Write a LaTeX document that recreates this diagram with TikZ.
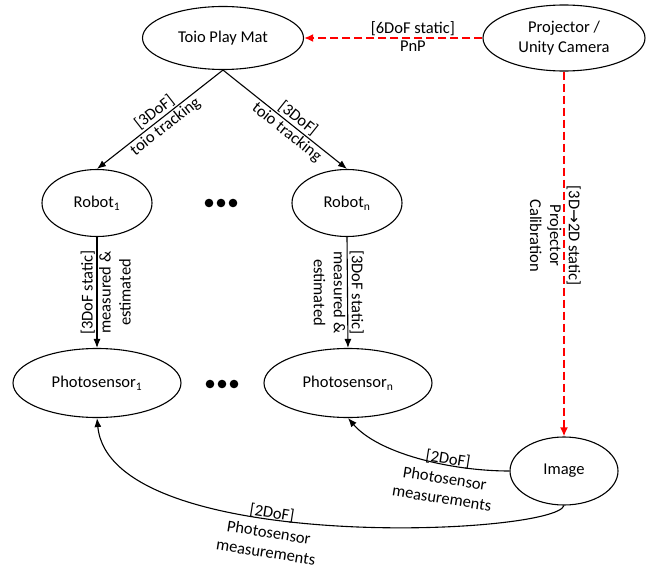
\documentclass[tikz,border=0pt]{standalone}
\usepackage{fontspec}
\setmainfont{Carlito}
\newfontfamily\arrowfont{DejaVu Sans}
\usetikzlibrary{positioning, calc}
\usetikzlibrary{shapes.geometric}
\usetikzlibrary{arrows.meta}

\begin{document}
\begin{tikzpicture}[x=1pt, y=-1pt,
        blob/.style={draw, ellipse, line width=1.1pt, inner sep=0pt, align=center, font=\fontsize{16.5}{20}\selectfont},
        lbl/.style={inner sep=1.5pt, align=center, text=black, font=\fontsize{16.5}{20}\selectfont},
        conn/.style={line width=1.1pt, -{Latex[length=9pt,width=7pt]}},
        calib/.style={line width=2pt, red, dash pattern=on 8pt off 4pt, -{Latex[length=9pt,width=8pt]}}]
    \useasboundingbox (0,0) rectangle (651,567);
    % ellipses
    \node[blob, minimum width=161pt, minimum height=63pt] (mat) at (223,38) {Toio Play Mat};
    \node[blob, minimum width=162pt, minimum height=66pt] (proj) at (564,38) {Projector /\\Unity Camera};
    \node[blob, minimum width=110pt, minimum height=67pt] (rob1) at (97,203) {Robot\textsubscript{1}};
    \node[blob, minimum width=110pt, minimum height=67pt] (robn) at (347,203) {Robot\textsubscript{n}};
    \node[blob, minimum width=168pt, minimum height=69pt] (ps1) at (97,383) {Photosensor\textsubscript{1}};
    \node[blob, minimum width=168pt, minimum height=69pt] (psn) at (348,383) {Photosensor\textsubscript{n}};
    \node[blob, minimum width=108pt, minimum height=68pt] (img) at (564,471) {Image};
    % dots
    \foreach \dx in {-12,0,12} {
        \fill (221+\dx,203) circle (4.3pt);
        \fill (222+\dx,384) circle (4.3pt);
    }
    % calibration (red)
    \draw[calib] (proj.west) -- node[lbl, pos=0.39, above] (pnpa) {[6DoF static]} node[lbl, pos=0.39, below] (pnpb) {PnP} (mat.east);
    \draw[calib] (proj.south) -- node[lbl, pos=0.45, rotate=-90, above] (cala) {[3D{\arrowfont →}2D static]} node[lbl, pos=0.45, rotate=-90, below] (calb) {Projector\\Calibration} (img.north);
    % tracking
    \draw[conn] (mat.south) -- node[lbl, pos=0.5, sloped, above] (tr1a) {[3DoF]} node[lbl, pos=0.5, sloped, below] (tr1b) {toio tracking} (rob1.north);
    \draw[conn] (mat.south) -- node[lbl, pos=0.56, sloped, above] (trna) {[3DoF]} node[lbl, pos=0.56, sloped, below] (trnb) {toio tracking} (robn.north);
    % robot to photosensor
    \draw[conn] (rob1.south) -- node[lbl, midway, rotate=90, above] (st1a) {[3DoF static]} node[lbl, midway, rotate=90, below] (st1b) {measured \&\\estimated} (ps1.north);
    \draw[conn] (robn.south) -- node[lbl, midway, rotate=-90, above] (stna) {[3DoF static]} node[lbl, midway, rotate=-90, below] (stnb) {measured \&\\estimated} (psn.north);
    % measurements
    \draw[conn] (img.west) .. controls +(-60,0) and +(30,35) .. (psn.south);
    \draw[conn] (img.south) .. controls +(-9,30) and +(13,137.5) .. (ps1.south);
    \node[lbl, rotate=-9] (msn) at (445,478) {[2DoF]\\Photosensor\\measurements};
    \node[lbl, rotate=-9] (ms1) at (269,532) {[2DoF]\\Photosensor\\measurements};
\end{tikzpicture}
\end{document}
